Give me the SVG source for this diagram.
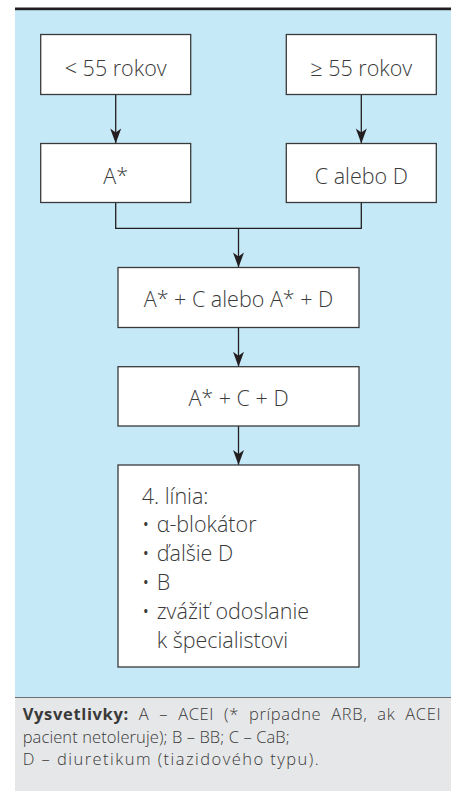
<svg xmlns="http://www.w3.org/2000/svg" width="451" height="791" viewBox="0 0 451 791">
<style>
.box{fill:#ffffff;stroke:#3a3a3a;stroke-width:1.3}
.t{font-family:"Open Sans","Noto Sans",sans-serif;font-weight:300;font-size:21.5px;fill:#3a3a3a}
.c{text-anchor:middle}
.con{fill:none;stroke:#231f20;stroke-width:1.3}
.lg{font-family:"Open Sans","Noto Sans",sans-serif;font-weight:300;font-size:16.5px;fill:#3a3a3a}
</style>
<defs>
<marker id="arr" markerUnits="userSpaceOnUse" markerWidth="18" markerHeight="14" refX="16" refY="6" orient="auto" viewBox="0 0 18 12">
<path d="M16,6 L1,0.5 L5,6 L1,11.5 Z" fill="#231f20"/>
</marker>
</defs>
<rect x="0" y="0" width="451" height="791" fill="#ffffff"/>
<rect x="15" y="10" width="436" height="687" fill="#c6e9f8"/>
<rect x="15" y="697" width="436" height="94" fill="#e6e7e8"/>
<line x1="15" y1="697.5" x2="451" y2="697.5" stroke="#6d6e71" stroke-width="1"/>
<rect x="15" y="7.5" width="436" height="2.7" fill="#231f20"/>

<g id="connectors">
<line class="con" x1="115.7" y1="94.5" x2="115.7" y2="143.5" marker-end="url(#arr)"/>
<line class="con" x1="361.3" y1="94.5" x2="361.3" y2="143.5" marker-end="url(#arr)"/>
<polyline class="con" points="115.7,202.5 115.7,228.3 361.3,228.3 361.3,202.5"/>
<line class="con" x1="238.5" y1="228.3" x2="238.5" y2="267.5" marker-end="url(#arr)"/>
<line class="con" x1="238.5" y1="327.3" x2="238.5" y2="366.7" marker-end="url(#arr)"/>
<line class="con" x1="238.5" y1="426" x2="238.5" y2="465" marker-end="url(#arr)"/>
</g>

<g id="node-lt55">
<rect class="box" x="40.7" y="34.5" width="150" height="60"/>
<text class="t c" x="115.7" y="75.5">&lt; 55 rokov</text>
</g>
<g id="node-ge55">
<rect class="box" x="286.3" y="34.5" width="150" height="60"/>
<text class="t c" x="361.3" y="75.5">≥ 55 rokov</text>
</g>
<g id="node-A">
<rect class="box" x="40.7" y="143.5" width="150" height="59"/>
<text class="t c" x="115.7" y="184">A*</text>
</g>
<g id="node-CD">
<rect class="box" x="286.3" y="143.5" width="150" height="59"/>
<text class="t c" x="361.3" y="184">C alebo D</text>
</g>
<g id="node-AC-AD">
<rect class="box" x="118" y="267.5" width="241" height="60"/>
<text class="t c" x="238.5" y="306.7">A* + C alebo A* + D</text>
</g>
<g id="node-ACD">
<rect class="box" x="118" y="366.7" width="241" height="59.3"/>
<text class="t c" x="238.5" y="405.7">A* + C + D</text>
</g>
<g id="node-line4">
<rect class="box" x="118" y="465" width="241" height="202"/>
<text class="t" x="141.7" y="504">4. línia:</text>
<text class="t" x="141.7" y="532">•</text>
<text class="t" x="156.7" y="532">α-blokátor</text>
<text class="t" x="141.7" y="561">•</text>
<text class="t" x="156.7" y="561">ďalšie D</text>
<text class="t" x="141.7" y="590">•</text>
<text class="t" x="156.7" y="590">B</text>
<text class="t" x="141.7" y="619">•</text>
<text class="t" x="156.7" y="619">zvážiť odoslanie</text>
<text class="t" x="156.7" y="648">k špecialistovi</text>
</g>

<g id="legend">
<text class="lg" x="22.7" y="720" word-spacing="5" textLength="418" lengthAdjust="spacing"><tspan font-weight="700">Vysvetlivky:</tspan> A – ACEI (* prípadne ARB, ak ACEI</text>
<text class="lg" x="22.7" y="742.5" textLength="267" lengthAdjust="spacing">pacient netoleruje); B – BB; C – CaB;</text>
<text class="lg" x="22.7" y="765" textLength="296" lengthAdjust="spacing">D – diuretikum (tiazidového typu).</text>
</g>
</svg>
